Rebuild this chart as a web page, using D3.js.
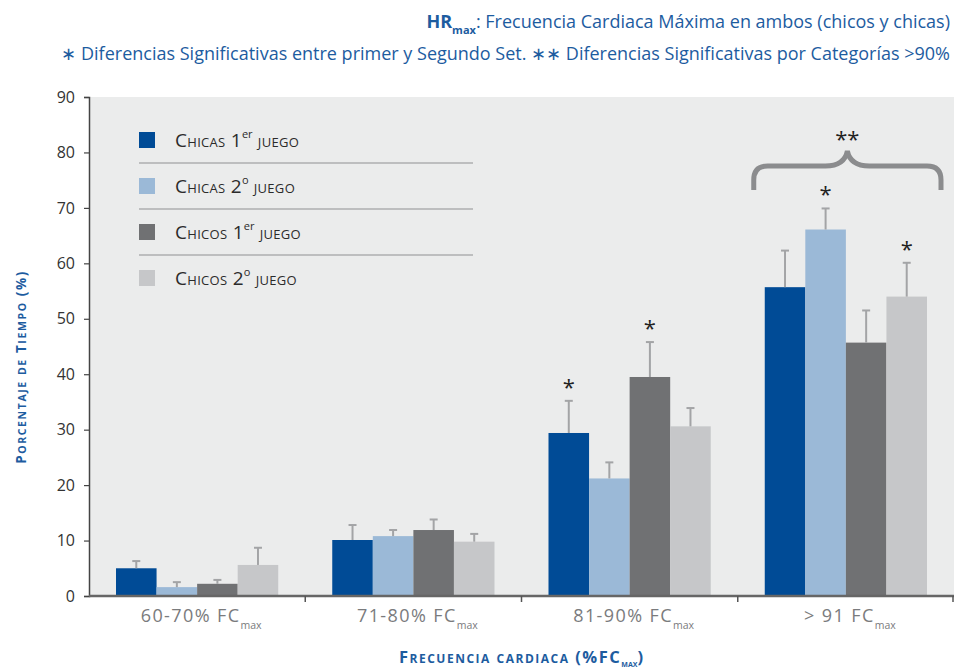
<!DOCTYPE html>
<html>
<head>
<meta charset="utf-8">
<script src="https://cdn.jsdelivr.net/npm/d3@7"></script>
<style>
  html, body { margin: 0; padding: 0; background: #fff; }
  svg { display: block; font-family: "Open Sans", "Noto Sans", sans-serif; }
</style>
</head>
<body>
<svg id="chart" width="957" height="670"></svg>
<script>
// Heart-rate zones (% of maximum heart rate)
const categories = ["60-70%", "71-80%", "81-90%", "> 91"];
// Series: girls / boys, first and second game
const seriesNames = ["Chicas", "Chicas", "Chicos", "Chicos"];
const seriesOrd = ["1", "2", "1", "2"];
const seriesSup = ["er", "o", "er", "o"];
const seriesColors = ["#004b96", "#9bb9d7", "#707173", "#c6c7c9"];
// Mean % of time per zone, one array per series (values by category)
const chicas1 = [5.0, 10.1, 29.4, 55.7];
const chicas2 = [1.6, 10.8, 21.2, 66.1];
const chicos1 = [2.2, 11.9, 39.5, 45.7];
const chicos2 = [5.6, 9.8, 30.6, 54.0];
// Standard deviations (upper whisker)
const chicas1Sd = [1.3, 2.7, 5.8, 6.6];
const chicas2Sd = [0.9, 1.1, 2.9, 3.8];
const chicos1Sd = [0.7, 1.9, 6.3, 5.8];
const chicos2Sd = [3.1, 1.4, 3.3, 6.1];
// Significance marks: [category index, series index]
const significant = [[2, 0], [2, 2], [3, 1], [3, 3]];
const yTicks = [0, 10, 20, 30, 40, 50, 60, 70, 80, 90];

const values = [chicas1, chicas2, chicos1, chicos2];
const sds = [chicas1Sd, chicas2Sd, chicos1Sd, chicos2Sd];

const svg = d3.select("#chart");
const blue = "#1d5c9f";
const m = { left: 89, right: 954, top: 97, bottom: 596 };

const y = d3.scaleLinear().domain([0, 90]).range([m.bottom, m.top]);
const x0 = d3.scaleBand().domain(categories).range([m.left, m.right]).paddingInner(0).paddingOuter(0);
const x1 = d3.scaleBand().domain(d3.range(4)).range([27, x0.bandwidth() - 27]).padding(0);

// small caps built from tspans: capitals at full size, lower case shrunk
function smallCaps(textSel, str, size, ratio) {
  const runs = str.match(/[a-záéíóúñ]+|[^a-záéíóúñ]+/g) || [];
  runs.forEach(r => {
    const lower = /[a-záéíóúñ]/.test(r[0]);
    textSel.append("tspan")
      .attr("font-size", lower ? size * ratio : size)
      .text(r.toUpperCase());
  });
}

// plot background
svg.append("rect")
  .attr("x", m.left).attr("y", m.top)
  .attr("width", m.right - m.left).attr("height", m.bottom - m.top)
  .attr("fill", "#ebecec");

// title lines
const t1 = svg.append("text").attr("x", 950).attr("y", 28)
  .attr("text-anchor", "end").attr("fill", blue).attr("font-size", 18);
t1.append("tspan").attr("font-weight", "bold").text("HR");
t1.append("tspan").attr("font-size", 11).attr("font-weight", "bold").attr("dy", 6).text("max");
t1.append("tspan").attr("dy", -6).text(": Frecuencia Cardiaca Máxima en ambos (chicos y chicas)");

svg.append("text").attr("x", 950).attr("y", 60)
  .attr("text-anchor", "end").attr("fill", blue).attr("font-size", 18)
  .text("∗ Diferencias Significativas entre primer y Segundo Set. ∗∗ Diferencias Significativas por Categorías >90%");

// bars
const groups = svg.append("g").selectAll("g")
  .data(categories).join("g")
  .attr("transform", d => `translate(${x0(d)},0)`);

groups.each(function (cat, ci) {
  const g = d3.select(this);
  values.forEach((vals, si) => {
    const v = vals[ci];
    const bx = x1(si);
    const bw = x1.bandwidth();
    g.append("rect")
      .attr("x", bx).attr("y", y(v))
      .attr("width", bw).attr("height", y(0) - y(v))
      .attr("fill", seriesColors[si]);
    const top = v + sds[si][ci];
    const cx = bx + bw / 2;
    g.append("line").attr("x1", cx).attr("x2", cx)
      .attr("y1", y(v)).attr("y2", y(top))
      .attr("stroke", "#a3a4a6").attr("stroke-width", 2);
    g.append("line").attr("x1", cx - 4).attr("x2", cx + 4)
      .attr("y1", y(top)).attr("y2", y(top))
      .attr("stroke", "#a3a4a6").attr("stroke-width", 2);
  });
});

// significance asterisks
significant.forEach(([ci, si]) => {
  const top = values[si][ci] + sds[si][ci];
  svg.append("text")
    .attr("x", x0(categories[ci]) + x1(si) + x1.bandwidth() / 2)
    .attr("y", y(top) - 6)
    .attr("text-anchor", "middle").attr("font-size", 22).attr("fill", "#222")
    .text("*");
});

// brace over the highest zone
{
  const bx = x0(categories[3]);
  const L = bx + 16, R = bx + x0.bandwidth() - 13, C = (L + R) / 2;
  const yb = 190, yh = 166, yc = 151, r = 14;
  const p = d3.path();
  p.moveTo(L, yb);
  p.lineTo(L, yh + r);
  p.quadraticCurveTo(L, yh, L + r, yh);
  p.lineTo(C - 22, yh);
  p.quadraticCurveTo(C - 3, yh, C, yc);
  p.quadraticCurveTo(C + 3, yh, C + 22, yh);
  p.lineTo(R - r, yh);
  p.quadraticCurveTo(R, yh, R, yh + r);
  p.lineTo(R, yb);
  svg.append("path").attr("d", p.toString())
    .attr("fill", "none").attr("stroke", "#8b8c8e").attr("stroke-width", 5);
  svg.append("text").attr("x", C).attr("y", 147)
    .attr("text-anchor", "middle").attr("font-size", 22).attr("fill", "#222")
    .text("**");
}

// y axis
const yAxis = svg.append("g").attr("transform", `translate(${m.left},0)`)
  .call(d3.axisLeft(y).tickValues(yTicks).tickSize(5).tickPadding(9));
yAxis.select(".domain").attr("stroke", "#444").attr("stroke-width", 1.5);
yAxis.selectAll(".tick line").attr("stroke", "#444").attr("stroke-width", 1.2);
yAxis.selectAll(".tick text").attr("fill", "#333").attr("font-size", 16)
  .attr("font-family", "'Open Sans', sans-serif");

// x axis
const xAxisG = svg.append("g").attr("transform", `translate(0,${m.bottom})`);
xAxisG.append("line").attr("x1", m.left).attr("x2", m.right)
  .attr("y1", 0).attr("y2", 0).attr("stroke", "#666").attr("stroke-width", 2.5);
xAxisG.selectAll("line.tk").data(categories.slice(1).concat(["end"])).join("line")
  .attr("class", "tk")
  .attr("x1", d => d === "end" ? m.right - 1 : x0(d))
  .attr("x2", d => d === "end" ? m.right - 1 : x0(d))
  .attr("y1", 0).attr("y2", 6).attr("stroke", "#555").attr("stroke-width", 1.5);
categories.forEach(c => {
  const t = xAxisG.append("text")
    .attr("x", x0(c) + x0.bandwidth() / 2 + 4).attr("y", 26)
    .attr("text-anchor", "middle").attr("fill", "#7a7b7d").attr("font-size", 18);
  t.append("tspan").attr("letter-spacing", 1.4).text(c + " FC");
  t.append("tspan").attr("font-size", 10.5).attr("dy", 7).text("max");
});

// axis titles
const yt = svg.append("text")
  .attr("transform", `translate(25.5,367) rotate(-90)`)
  .attr("text-anchor", "middle").attr("fill", blue)
  .attr("font-weight", "bold").attr("letter-spacing", 1.6);
smallCaps(yt, "Porcentaje de Tiempo (%)", 13.5, 0.78);

const xt = svg.append("text").attr("x", 521).attr("y", 663)
  .attr("text-anchor", "middle").attr("fill", blue)
  .attr("font-size", 16.5).attr("font-weight", "bold")
  .style("font-variant", "small-caps");
xt.append("tspan").attr("letter-spacing", 1.5).text("Frecuencia cardiaca (%FC");
xt.append("tspan").attr("font-size", 10).attr("dy", 4).text("max");
xt.append("tspan").attr("dy", -4).text(")");

// legend
const legend = svg.append("g");
seriesNames.forEach((name, i) => {
  const cy = 140 + i * 46;
  legend.append("rect").attr("x", 139).attr("y", cy - 8)
    .attr("width", 16).attr("height", 16).attr("fill", seriesColors[i]);
  const t = legend.append("text").attr("x", 175).attr("y", cy + 7)
    .attr("fill", "#2b2b2b").attr("font-size", 19)
    .style("font-variant", "small-caps");
  t.append("tspan").attr("letter-spacing", 0.3).text(name + " " + seriesOrd[i]);
  t.append("tspan").attr("font-size", 11).attr("dy", -9)
    .style("font-variant", "normal").text(seriesSup[i]);
  t.append("tspan").attr("dy", 9).attr("letter-spacing", 0.3).text(" juego");
  if (i < 3) {
    legend.append("line").attr("x1", 139).attr("x2", 473)
      .attr("y1", cy + 23).attr("y2", cy + 23)
      .attr("stroke", "#8f9092").attr("stroke-width", 1.2);
  }
});
</script>
</body>
</html>
